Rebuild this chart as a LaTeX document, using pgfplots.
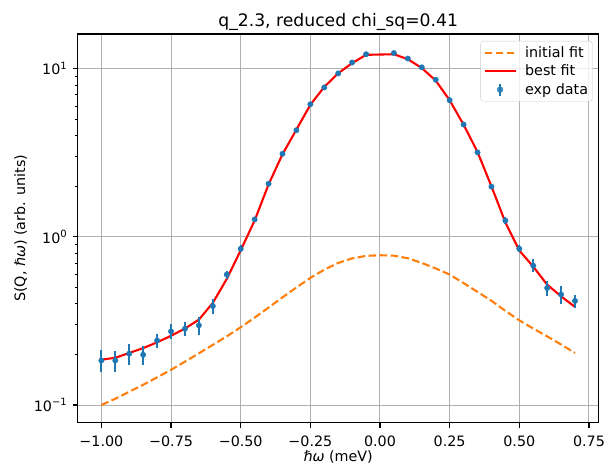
\documentclass[border=0pt]{standalone}
\usepackage{fontspec}
\setmainfont{DejaVu Sans}
\usepackage{pgfplots}
\pgfplotsset{compat=1.18}
\definecolor{tabblue}{HTML}{1F77B4}
\definecolor{taborange}{HTML}{FF7F0E}
\definecolor{gridgray}{HTML}{B0B0B0}
\pgfplotstableread{
x y err
-1.00 0.184 0.027
-0.95 0.184 0.026
-0.90 0.202 0.030
-0.85 0.199 0.025
-0.80 0.242 0.024
-0.75 0.274 0.028
-0.70 0.284 0.027
-0.65 0.298 0.036
-0.60 0.388 0.038
-0.55 0.597 0.034
-0.50 0.849 0.040
-0.45 1.27 0.05
-0.40 2.07 0.06
-0.35 3.12 0.07
-0.30 4.31 0.08
-0.25 6.15 0.09
-0.20 7.74 0.10
-0.15 9.38 0.11
-0.10 10.9 0.12
-0.05 12.2 0.13
0.05 12.4 0.13
0.10 11.5 0.12
0.15 10.2 0.11
0.20 8.60 0.10
0.25 6.50 0.09
0.30 4.66 0.08
0.35 3.18 0.07
0.40 1.99 0.06
0.45 1.25 0.06
0.50 0.85 0.04
0.55 0.675 0.060
0.60 0.497 0.050
0.65 0.454 0.053
0.70 0.416 0.036
}\expdata
\pgfplotstableread{
x y
-1.00 0.186
-0.95 0.191
-0.90 0.204
-0.85 0.218
-0.80 0.236
-0.75 0.258
-0.70 0.285
-0.65 0.322
-0.60 0.405
-0.55 0.562
-0.50 0.832
-0.45 1.25
-0.40 2.05
-0.35 3.10
-0.30 4.35
-0.25 6.10
-0.20 7.80
-0.15 9.40
-0.10 10.8
-0.05 12.1
0.05 12.2
0.10 11.4
0.15 10.1
0.20 8.50
0.25 6.50
0.30 4.65
0.35 3.20
0.40 2.00
0.45 1.22
0.50 0.83
0.55 0.665
0.60 0.52
0.65 0.443
0.70 0.383
}\bestfit
\pgfplotstableread{
x y
-1.00 0.100
-0.95 0.109
-0.90 0.120
-0.85 0.132
-0.80 0.146
-0.75 0.162
-0.70 0.181
-0.65 0.203
-0.60 0.228
-0.55 0.256
-0.50 0.290
-0.45 0.331
-0.40 0.380
-0.35 0.437
-0.30 0.500
-0.25 0.570
-0.20 0.638
-0.15 0.700
-0.10 0.745
-0.05 0.771
0.00 0.778
0.05 0.773
0.10 0.746
0.15 0.700
0.20 0.649
0.25 0.597
0.30 0.531
0.35 0.471
0.40 0.417
0.45 0.363
0.50 0.319
0.55 0.285
0.60 0.256
0.65 0.229
0.70 0.204
}\initfit
\begin{document}
\begin{tikzpicture}[x=1bp,y=1bp]
\useasboundingbox (-77.7,-45.3) rectangle (528.3,422.7);
\begin{axis}[
  at={(0,0)}, anchor=south west,
  scale only axis, width=521bp, height=388.7bp,
  ymode=log,
  xmin=-1.085, xmax=0.785, ymin=0.0785, ymax=16.1,
  xtick={-1,-0.75,-0.5,-0.25,0,0.25,0.5,0.75},
  xticklabels={−1.00,−0.75,−0.50,−0.25,0.00,0.25,0.50,0.75},
  ytick={0.1,1,10},
  yticklabels={10\textsuperscript{−1},10\textsuperscript{0},10\textsuperscript{1}},
  tick pos=left, tick align=outside,
  major tick length=4.9bp, minor tick length=2.8bp,
  every tick/.style={black, line width=1.1bp},
  minor tick style={black, line width=0.8bp},
  axis line style={black, line width=1.1bp},
  grid=major, major grid style={gridgray, line width=1bp},
  tick label style={font=\fontsize{14.3bp}{16bp}\selectfont},
  xticklabel style={yshift=-5bp},
  yticklabel style={xshift=-2bp},
  label style={font=\fontsize{14.3bp}{16bp}\selectfont},
  xlabel={\textit{ℏω} (meV)},
  xlabel style={yshift=3bp},
  ylabel={S(Q, \textit{ℏω}) (arb. units)},
  title={q\_2.3, reduced chi\_sq=0.41},
  title style={font=\fontsize{17.2bp}{19bp}\selectfont, yshift=-6bp},
  legend style={at={(1,1)}, anchor=north east, xshift=-6bp, yshift=-7bp,
    font=\fontsize{14.3bp}{16bp}\selectfont, draw=black!20, rounded corners=3bp,
    fill=white, fill opacity=0.8, text opacity=1, row sep=3bp, column sep=7bp,
    inner xsep=3bp, inner ysep=4bp,
    nodes={inner sep=1.5bp}},
  legend cell align=left,
  legend image code/.code={\draw[#1] (0bp,0bp) -- (31bp,0bp);},
]
\addplot[taborange, line width=2.1bp, dash pattern=on 7.7bp off 3.3bp] table {\initfit};
\addlegendentry{initial fit}
\addplot[red, line width=2.1bp] table {\bestfit};
\addlegendentry{best fit}
\addplot[only marks, mark=*, mark size=2.7bp, color=tabblue,
  legend image code/.code={\draw[tabblue, line width=2.1bp] (15.5bp,-6bp) -- (15.5bp,6bp); \fill[tabblue] (15.5bp,0bp) circle (2.9bp);},
  error bars/.cd, y dir=both, y explicit, error mark=none,
  error bar style={line width=2.1bp, tabblue}]
  table[x=x, y=y, y error=err] {\expdata};
\addlegendentry{exp data}
\end{axis}
\end{tikzpicture}
\end{document}
